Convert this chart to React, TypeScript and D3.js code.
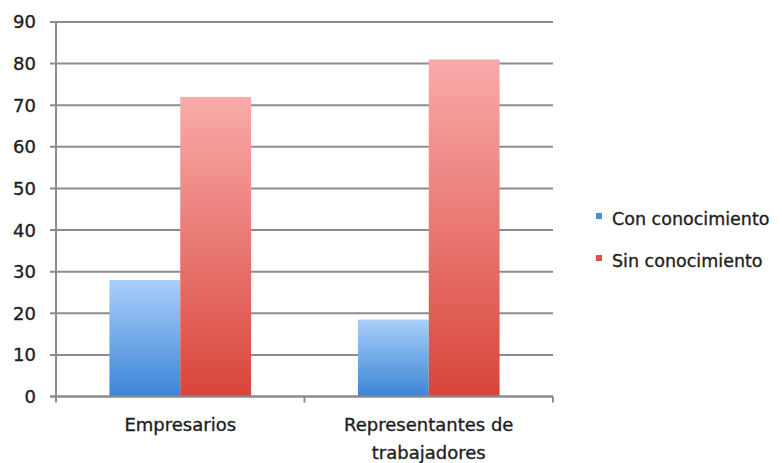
import React from "react";
import * as d3 from "d3";

const categories = ["Empresarios", "Representantes de trabajadores"];
const categoryLines = [["Empresarios"], ["Representantes de", "trabajadores"]];
const seriesNames = ["Con conocimiento", "Sin conocimiento"];
const conValues = [28, 18.5];
const sinValues = [72, 81];
const yTicks = [0, 10, 20, 30, 40, 50, 60, 70, 80, 90];

const W = 782;
const H = 463;
const margin = { left: 56, right: 229, top: 22, bottom: 66.5 };
const FONT = "'DejaVu Sans', sans-serif";
const TEXT = "#1e1e1e";

const gradients = [
  { id: "gBlue", top: "#aacffa", bottom: "#3b85d6", key: "#4a8fdc" },
  { id: "gRed", top: "#f9abaa", bottom: "#d8453a", key: "#de514a" },
];

export default function App() {
  const x0 = d3
    .scaleBand<string>()
    .domain(categories)
    .range([margin.left, W - margin.right])
    .paddingInner(0.43)
    .paddingOuter(0.215);
  const x1 = d3
    .scaleBand<string>()
    .domain(seriesNames)
    .range([0, x0.bandwidth()]);
  const y = d3
    .scaleLinear()
    .domain([0, 90])
    .range([H - margin.bottom, margin.top]);

  const series = [conValues, sinValues];
  const plotRight = W - margin.right;
  const full = d3
    .scaleBand<string>()
    .domain(categories)
    .range([margin.left, plotRight]);

  const textProps = { fill: TEXT, stroke: TEXT, strokeWidth: 0.35 };

  return (
    <svg
      width={W}
      height={H}
      style={{ position: "absolute", left: 0, top: 0, background: "#fff" }}
      fontFamily={FONT}
    >
      <defs>
        {gradients.map((g) => (
          <linearGradient key={g.id} id={g.id} x1="0" y1="0" x2="0" y2="1">
            <stop offset="0" stopColor={g.top} />
            <stop offset="1" stopColor={g.bottom} />
          </linearGradient>
        ))}
      </defs>
      {/* gridlines + y ticks */}
      {yTicks.map((t) => (
        <g key={t}>
          <line
            x1={margin.left - 6}
            x2={plotRight}
            y1={y(t)}
            y2={y(t)}
            stroke="#8c8c8c"
            strokeWidth={2}
          />
          <text
            x={36}
            y={y(t)}
            dy="0.36em"
            textAnchor="end"
            fontSize={18}
            {...textProps}
          >
            {t}
          </text>
        </g>
      ))}
      {/* bars */}
      {categories.map((c, ci) =>
        seriesNames.map((s, si) => {
          const v = series[si][ci];
          const bx = (x0(c) ?? 0) + (x1(s) ?? 0);
          return (
            <rect
              key={c + s}
              x={bx}
              y={y(v)}
              width={x1.bandwidth()}
              height={y(0) - y(v)}
              fill={`url(#${gradients[si].id})`}
            />
          );
        })
      )}
      {/* axes */}
      <line
        x1={margin.left}
        x2={margin.left}
        y1={y(90) - 1}
        y2={y(0) + 1}
        stroke="#8c8c8c"
        strokeWidth={2}
      />
      <line
        x1={margin.left - 6}
        x2={plotRight}
        y1={y(0)}
        y2={y(0)}
        stroke="#8c8c8c"
        strokeWidth={2}
      />
      {[margin.left, ...categories.map((c) => (full(c) ?? 0) + full.bandwidth())].map(
        (tx, i) => (
          <line
            key={i}
            x1={tx}
            x2={tx}
            y1={y(0)}
            y2={y(0) + 6}
            stroke="#8c8c8c"
            strokeWidth={2}
          />
        )
      )}
      {/* category labels */}
      {categories.map((c, ci) => (
        <text
          key={c}
          x={(full(c) ?? 0) + full.bandwidth() / 2}
          y={431}
          textAnchor="middle"
          fontSize={18}
          {...textProps}
        >
          {categoryLines[ci].map((ln, li) => (
            <tspan
              key={li}
              x={(full(c) ?? 0) + full.bandwidth() / 2}
              dy={li === 0 ? 0 : 28}
            >
              {ln}
            </tspan>
          ))}
        </text>
      ))}
      {/* legend */}
      {seriesNames.map((s, si) => (
        <g key={s} transform={`translate(596, ${225 + si * 42})`}>
          <rect x={0} y={-12} width={6} height={6} fill={gradients[si].key} />
          <text x={16} y={0} fontSize={17.5} {...textProps}>
            {s}
          </text>
        </g>
      ))}
    </svg>
  );
}
